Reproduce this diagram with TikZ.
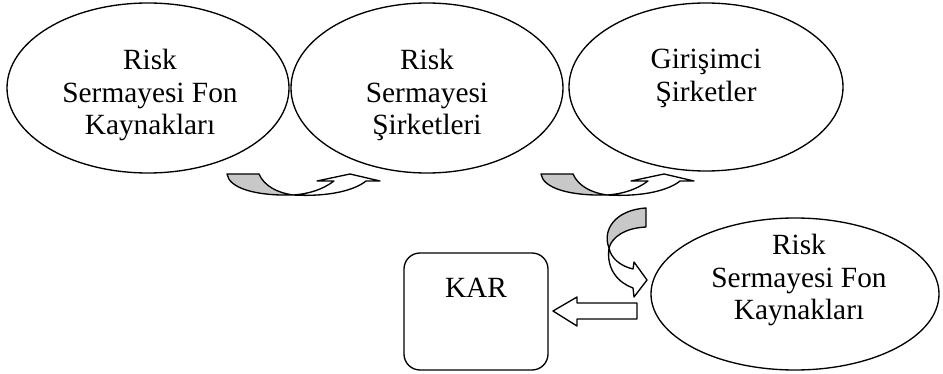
\documentclass[tikz,border=0pt]{standalone}
\usepackage{fontspec}
\setmainfont{Liberation Serif}
\usetikzlibrary{shapes.geometric}
\definecolor{arrgray}{RGB}{200,200,200}
\begin{document}
\begin{tikzpicture}[x=0.75pt,y=-0.75pt,line join=round,
  oval/.style={draw,line width=1pt,ellipse,inner sep=0pt},
  lbl/.style={font=\fontsize{22}{24.5}\selectfont,align=center,inner sep=0pt,anchor=north},
  shp/.style={draw,line width=1pt},
  kbox/.style={draw,line width=1pt,rounded corners=12pt,minimum width=108pt,minimum height=87.75pt,inner sep=0pt}]
\useasboundingbox (0,0) rectangle (943,374);
% ellipses
\node[oval,minimum width=211.5pt,minimum height=127.5pt] (e1) at (148,88) {};
\node[oval,minimum width=204pt,minimum height=127.5pt] (e2) at (427,88) {};
\node[oval,minimum width=205.5pt,minimum height=126pt] (e3) at (706,87) {};
\node[oval,minimum width=216pt,minimum height=114pt] (e4) at (795,294) {};
\node[kbox] (kar) at (476,311.5) {};
% texts
\node[lbl] (t1) at (150,49) {Risk\\Sermayesi Fon\\Kaynakları};
\node[lbl] (t2) at (427,49) {Risk\\Sermayesi\\Şirketleri};
\node[lbl] (t3) at (706,49) {Girişimci\\Şirketler};
\node[lbl] (t4) at (799,234) {Risk\\Sermayesi Fon\\Kaynakları};
\node[lbl] (t5) at (476,278) {KAR};
% curved arrows (horizontal)
\foreach \dx in {0,314}{
\begin{scope}[shift={(\dx,0)}]
\filldraw[shp,fill=arrgray] (227,174) -- (259,174) .. controls (264,186) and (278,193) .. (293,195) .. controls (255,196) and (229,188) .. (227,174) -- cycle;
\filldraw[shp,fill=white] (293,195) .. controls (330,197) and (355,190) .. (366,181) -- (380,181) -- (350,174) -- (317,181) -- (334,181) .. controls (322,190) and (308,194) .. (293,195) -- cycle;
\end{scope}}
% curved arrow (vertical)
\filldraw[shp,fill=arrgray] (646,208) -- (646,227) .. controls (625,228) and (612,237) .. (609,248) .. controls (602,230) and (615,210) .. (646,208) -- cycle;
\filldraw[shp,fill=white] (609,248) .. controls (606,270) and (619,283) .. (633,288) -- (634,297) -- (647,280) -- (634,262) -- (633,269) .. controls (620,266) and (611,258) .. (609,248) -- cycle;
% block arrow
\draw[shp] (637,303) -- (577,303) -- (577,297) -- (553,311) -- (577,326) -- (577,319) -- (637,319) -- cycle;
\end{tikzpicture}
\end{document}
